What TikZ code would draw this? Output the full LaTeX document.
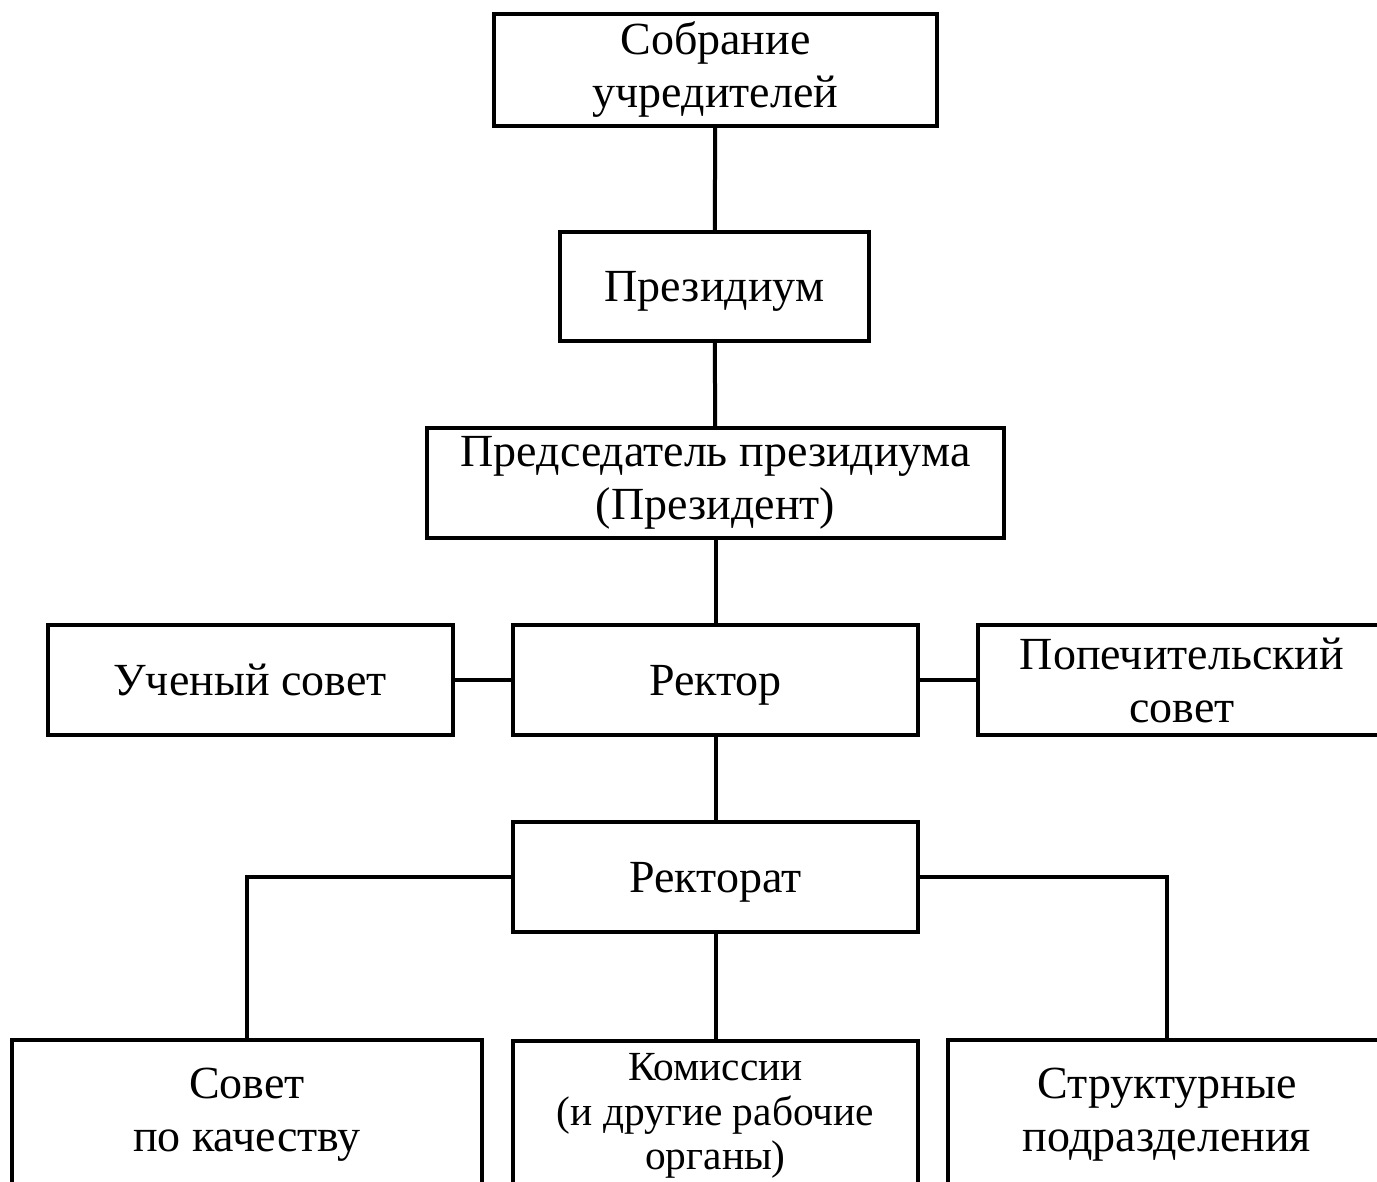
\documentclass[tikz,border=0pt]{standalone}
\usepackage{fontspec}
\setmainfont{Liberation Serif}
\usetikzlibrary{positioning}

\begin{document}
\begin{tikzpicture}[x=0.5pt,y=-0.5pt,
  unit/.style={draw,line width=2pt,align=center,inner sep=0pt,
    font=\fontsize{23}{26.5}\selectfont},
  single/.style={unit,text depth=0pt},
  link/.style={line width=2pt}]
\useasboundingbox (0,0) rectangle (1377,1182);
\node[unit,minimum width=221.5pt,minimum height=56pt] (sobr) at (715.5,70) {Собрание\\учредителей};
\node[single,minimum width=154.5pt,minimum height=54.5pt] (prez) at (714.5,286.5) {Президиум};
\node[unit,minimum width=288.5pt,minimum height=55pt] (pred) at (715.5,483) {Председатель президиума\\(Президент)};
\node[single,minimum width=202.5pt,minimum height=55pt] (rektor) at (715.5,680) {Ректор};
\node[single,minimum width=202.5pt,minimum height=55pt] (uchs) at (250,680) {Ученый совет};
\node[unit,minimum width=204pt,minimum height=55pt] (popech) at (1182,680) {Попечительский\\совет};
\node[single,minimum width=202.5pt,minimum height=55pt] (rektorat) at (715.5,877) {Ректорат};
\node[unit,minimum width=235pt,minimum height=75pt] (kach) at (247,1115) {Совет\\по качеству};
\node[unit,minimum width=202.5pt,minimum height=75pt,
  font=\fontsize{20.7}{22.3}\selectfont] (komis) at (715.5,1116) {Комиссии\\(и другие рабочие\\органы)};
\node[unit,minimum width=219pt,minimum height=75pt] (strukt) at (1167,1115) {Структурные\\подразделения};
\path[link]
(sobr) edge (prez)
(prez) edge (pred)
(pred) edge (rektor)
(uchs) edge (rektor)
(rektor) edge (popech)
(rektor) edge (rektorat)
(rektorat) edge (komis)
;
\draw[link] (rektorat.west) -| (kach.north);
\draw[link] (rektorat.east) -| (strukt.north);
\end{tikzpicture}
\end{document}
